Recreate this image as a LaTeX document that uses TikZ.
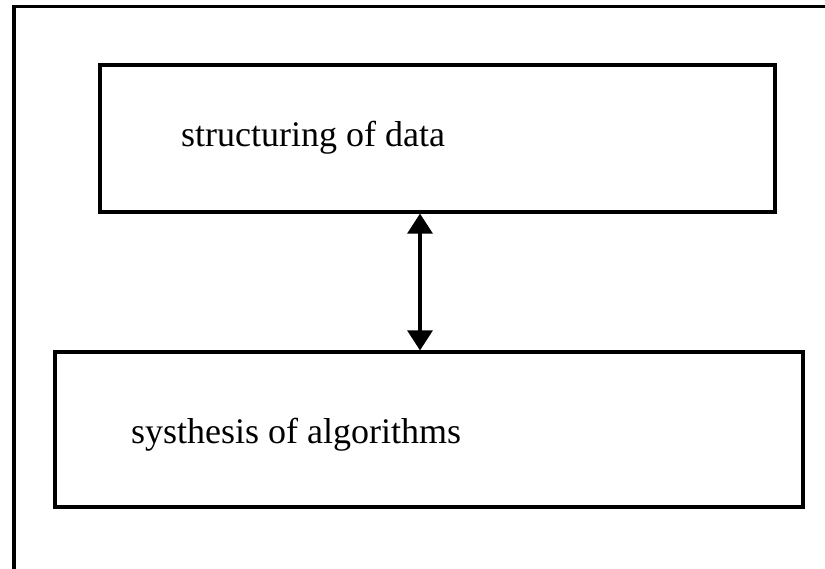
\documentclass[tikz,border=0pt]{standalone}
\usepackage{fontspec}
\setmainfont{Liberation Serif}
\usetikzlibrary{arrows.meta}
\begin{document}
\begin{tikzpicture}[x=1pt,y=-1pt,
  boxstyle/.style={draw,line width=3.2pt,rectangle,inner sep=0pt},
  lbl/.style={anchor=base west,inner sep=0pt,font=\fontsize{36}{40}\selectfont},
  link/.style={line width=3.2pt,{Triangle[length=20pt,width=25pt]}-{Triangle[length=20pt,width=25pt]}}]
\useasboundingbox (0,0) rectangle (825,569);
\coordinate (fb) at (14,575);
\coordinate (ftl) at (14,6.5);
\coordinate (ftr) at (830,6.5);
\draw[line width=3.2pt] (fb) -- (ftl) -- (ftr);
\node[boxstyle,minimum width=675pt,minimum height=147pt] (box1) at (437.5,138.5) {};
\node[boxstyle,minimum width=748pt,minimum height=155pt] (box2) at (429,429.5) {};
\node[lbl] (t1) at (181,147) {structuring of data};
\node[lbl] (t2) at (131,443) {systhesis of algorithms};
\coordinate (ax) at (420,0);
\draw[link] (box1.south -| ax) -- (box2.north -| ax);
\end{tikzpicture}
\end{document}
